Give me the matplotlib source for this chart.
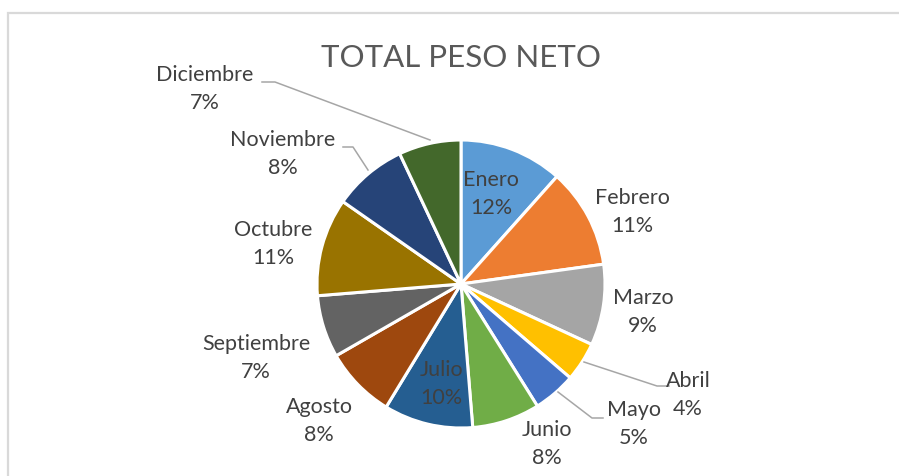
import matplotlib

matplotlib.use("Agg")
import matplotlib.pyplot as plt  # noqa: E402
from matplotlib.patches import Rectangle  # noqa: E402

W, H = 899, 476

months = ["Enero", "Febrero", "Marzo", "Abril", "Mayo", "Junio", "Julio",
          "Agosto", "Septiembre", "Octubre", "Noviembre", "Diciembre"]
shares = [11.6, 11.2, 9.1, 4.4, 4.8, 7.6, 10.0, 8.0, 7.0, 11.0, 8.3, 7.0]
colors = ["#5B9BD5", "#ED7D31", "#A5A5A5", "#FFC000", "#4472C4", "#70AD47",
          "#255E91", "#9E480E", "#636363", "#997300", "#264478", "#43682B"]

# label centres in pixel coords (x, y from top)
label_pos = {
    "Enero": (491, 194), "Febrero": (632, 212), "Marzo": (643, 312),
    "Abril": (688, 395), "Mayo": (634, 424), "Junio": (547, 444),
    "Julio": (441, 384), "Agosto": (319, 421), "Septiembre": (256, 358),
    "Octubre": (273, 244), "Noviembre": (283, 154), "Diciembre": (205, 89),
}
leaders = {
    "Diciembre": [(262, 82), (275, 82), (430, 140)],
    "Noviembre": [(343, 147), (353, 147), (368, 170)],
    "Abril": [(584, 362), (657, 386), (669, 386)],
    "Mayo": [(558, 392), (592, 418), (603, 418)],
}

CX, CY, R = 461, 284, 144
FONT = ["Lato", "DejaVu Sans"]

fig = plt.figure(figsize=(W / 100, H / 100), dpi=100, facecolor="white")
ax = fig.add_axes([0, 0, 1, 1])
ax.set_xlim(0, W)
ax.set_ylim(0, H)
ax.set_aspect("equal")
ax.axis("off")

ax.add_patch(Rectangle((8, -20), W + 20, H - 13 + 20, fill=False,
                       edgecolor="#d9d9d9", linewidth=1.6))

ax.pie(shares, colors=colors, startangle=90, counterclock=False,
       center=(CX, H - CY), radius=R,
       wedgeprops=dict(edgecolor="white", linewidth=2.2))
ax.set_xlim(0, W)
ax.set_ylim(0, H)

total = sum(shares)
for m, v in zip(months, shares):
    x, y = label_pos[m]
    ax.text(x, H - y, f"{m}\n{round(v / total * 100):.0f}%", ha="center",
            va="center", fontsize=15.5, color="#404040", family=FONT,
            linespacing=1.45)

for m, pts in leaders.items():
    ax.plot([p[0] for p in pts], [H - p[1] for p in pts], color="#a6a6a6",
            linewidth=1.1)

ax.text(CX, H - 58, "TOTAL PESO NETO", ha="center", va="center",
        fontsize=22.5, color="#595959", family=FONT)

fig.savefig("out.png", dpi=100, facecolor="white")
